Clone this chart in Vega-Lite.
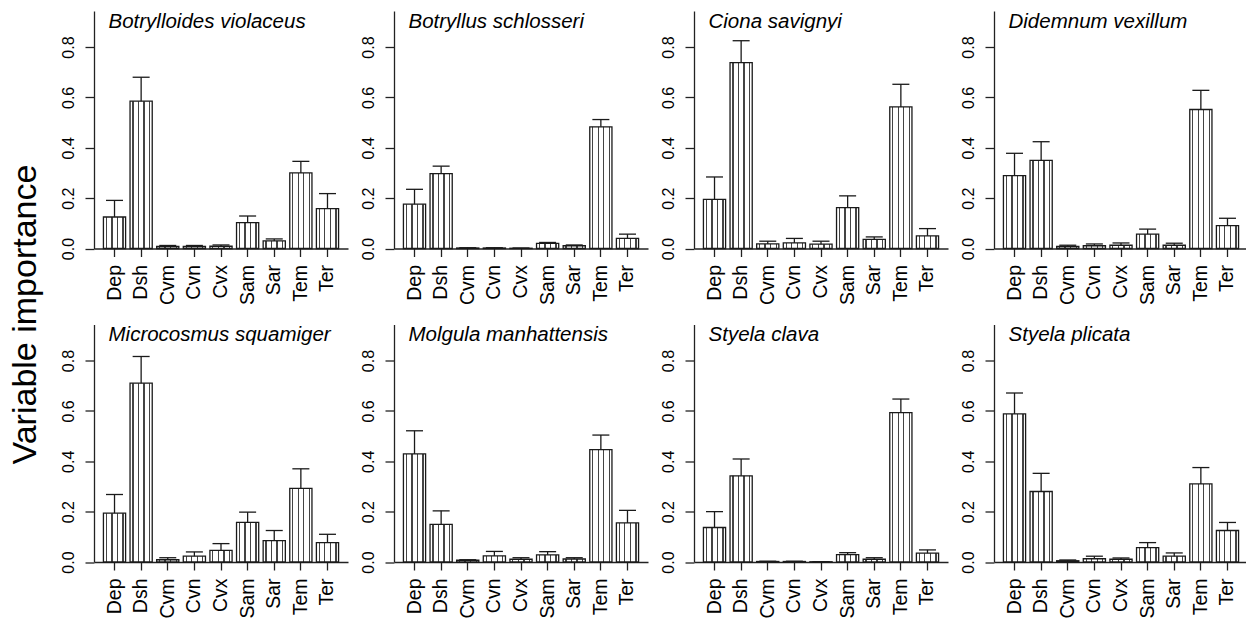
{
  "$schema": "https://vega.github.io/schema/vega-lite/v6.json",
  "padding": {"left": 8, "top": 10, "right": 0, "bottom": 0},
  "background": "white",
  "bounds": "flush",
  "columns": 4,
  "spacing": {"column": 46, "row": 75.5},
  "config": {
    "view": {"stroke": null},
    "header": {"title": null, "labels": false, "labelExpr": "''", "labelFontSize": 0.01, "labelPadding": 0},
    "axisY": {"title": null, "labelAngle": 270, "labelAlign": "center", "labelBaseline": "alphabetic", "labelFontSize": 16, "labelFont": "Liberation Sans", "labelColor": "#000", "labelPadding": 11.5, "tickSize": 9, "tickWidth": 1.3, "tickColor": "#222", "domainColor": "#222", "domainWidth": 1.3, "grid": false},
    "axisX": {"title": null, "labelAngle": 270, "labelAlign": "right", "labelBaseline": "middle", "labelFontSize": 19.5, "labelFont": "Liberation Sans", "labelColor": "#000", "labelPadding": 8, "tickSize": 8, "tickWidth": 1.3, "tickColor": "#222", "domainColor": "#222", "domainWidth": 1.3, "grid": false}
  },
  "title": {"text": "Variable importance", "orient": "left", "anchor": "middle", "fontSize": 34, "font": "Liberation Sans", "fontWeight": "normal", "color": "#000", "offset": 18},
  "data": {"values": [
    {"sp": "Botrylloides violaceus", "var": "Dep", "value": 0.125, "upper": 0.191},
    {"sp": "Botrylloides violaceus", "var": "Dsh", "value": 0.585, "upper": 0.680},
    {"sp": "Botrylloides violaceus", "var": "Cvm", "value": 0.008, "upper": 0.012},
    {"sp": "Botrylloides violaceus", "var": "Cvn", "value": 0.008, "upper": 0.012},
    {"sp": "Botrylloides violaceus", "var": "Cvx", "value": 0.009, "upper": 0.014},
    {"sp": "Botrylloides violaceus", "var": "Sam", "value": 0.103, "upper": 0.129},
    {"sp": "Botrylloides violaceus", "var": "Sar", "value": 0.030, "upper": 0.038},
    {"sp": "Botrylloides violaceus", "var": "Tem", "value": 0.300, "upper": 0.346},
    {"sp": "Botrylloides violaceus", "var": "Ter", "value": 0.158, "upper": 0.218},
    {"sp": "Botryllus schlosseri", "var": "Dep", "value": 0.176, "upper": 0.235},
    {"sp": "Botryllus schlosseri", "var": "Dsh", "value": 0.297, "upper": 0.327},
    {"sp": "Botryllus schlosseri", "var": "Cvm", "value": 0.002, "upper": 0.003},
    {"sp": "Botryllus schlosseri", "var": "Cvn", "value": 0.002, "upper": 0.003},
    {"sp": "Botryllus schlosseri", "var": "Cvx", "value": 0.001, "upper": 0.002},
    {"sp": "Botryllus schlosseri", "var": "Sam", "value": 0.020, "upper": 0.024},
    {"sp": "Botryllus schlosseri", "var": "Sar", "value": 0.011, "upper": 0.014},
    {"sp": "Botryllus schlosseri", "var": "Tem", "value": 0.483, "upper": 0.512},
    {"sp": "Botryllus schlosseri", "var": "Ter", "value": 0.040, "upper": 0.057},
    {"sp": "Ciona savignyi", "var": "Dep", "value": 0.195, "upper": 0.284},
    {"sp": "Ciona savignyi", "var": "Dsh", "value": 0.738, "upper": 0.825},
    {"sp": "Ciona savignyi", "var": "Cvm", "value": 0.018, "upper": 0.029},
    {"sp": "Ciona savignyi", "var": "Cvn", "value": 0.022, "upper": 0.040},
    {"sp": "Ciona savignyi", "var": "Cvx", "value": 0.017, "upper": 0.029},
    {"sp": "Ciona savignyi", "var": "Sam", "value": 0.162, "upper": 0.209},
    {"sp": "Ciona savignyi", "var": "Sar", "value": 0.036, "upper": 0.046},
    {"sp": "Ciona savignyi", "var": "Tem", "value": 0.562, "upper": 0.652},
    {"sp": "Ciona savignyi", "var": "Ter", "value": 0.050, "upper": 0.079},
    {"sp": "Didemnum vexillum", "var": "Dep", "value": 0.289, "upper": 0.378},
    {"sp": "Didemnum vexillum", "var": "Dsh", "value": 0.350, "upper": 0.424},
    {"sp": "Didemnum vexillum", "var": "Cvm", "value": 0.008, "upper": 0.013},
    {"sp": "Didemnum vexillum", "var": "Cvn", "value": 0.011, "upper": 0.018},
    {"sp": "Didemnum vexillum", "var": "Cvx", "value": 0.013, "upper": 0.022},
    {"sp": "Didemnum vexillum", "var": "Sam", "value": 0.057, "upper": 0.077},
    {"sp": "Didemnum vexillum", "var": "Sar", "value": 0.013, "upper": 0.021},
    {"sp": "Didemnum vexillum", "var": "Tem", "value": 0.552, "upper": 0.628},
    {"sp": "Didemnum vexillum", "var": "Ter", "value": 0.091, "upper": 0.120},
    {"sp": "Microcosmus squamiger", "var": "Dep", "value": 0.194, "upper": 0.268},
    {"sp": "Microcosmus squamiger", "var": "Dsh", "value": 0.710, "upper": 0.816},
    {"sp": "Microcosmus squamiger", "var": "Cvm", "value": 0.009, "upper": 0.017},
    {"sp": "Microcosmus squamiger", "var": "Cvn", "value": 0.023, "upper": 0.040},
    {"sp": "Microcosmus squamiger", "var": "Cvx", "value": 0.046, "upper": 0.073},
    {"sp": "Microcosmus squamiger", "var": "Sam", "value": 0.157, "upper": 0.198},
    {"sp": "Microcosmus squamiger", "var": "Sar", "value": 0.085, "upper": 0.125},
    {"sp": "Microcosmus squamiger", "var": "Tem", "value": 0.292, "upper": 0.370},
    {"sp": "Microcosmus squamiger", "var": "Ter", "value": 0.077, "upper": 0.110},
    {"sp": "Molgula manhattensis", "var": "Dep", "value": 0.429, "upper": 0.521},
    {"sp": "Molgula manhattensis", "var": "Dsh", "value": 0.149, "upper": 0.203},
    {"sp": "Molgula manhattensis", "var": "Cvm", "value": 0.007, "upper": 0.009},
    {"sp": "Molgula manhattensis", "var": "Cvn", "value": 0.024, "upper": 0.042},
    {"sp": "Molgula manhattensis", "var": "Cvx", "value": 0.011, "upper": 0.017},
    {"sp": "Molgula manhattensis", "var": "Sam", "value": 0.028, "upper": 0.041},
    {"sp": "Molgula manhattensis", "var": "Sar", "value": 0.012, "upper": 0.017},
    {"sp": "Molgula manhattensis", "var": "Tem", "value": 0.446, "upper": 0.504},
    {"sp": "Molgula manhattensis", "var": "Ter", "value": 0.155, "upper": 0.205},
    {"sp": "Styela clava", "var": "Dep", "value": 0.137, "upper": 0.200},
    {"sp": "Styela clava", "var": "Dsh", "value": 0.342, "upper": 0.409},
    {"sp": "Styela clava", "var": "Cvm", "value": 0.002, "upper": 0.003},
    {"sp": "Styela clava", "var": "Cvn", "value": 0.002, "upper": 0.003},
    {"sp": "Styela clava", "var": "Cvx", "value": 0.001, "upper": 0.001},
    {"sp": "Styela clava", "var": "Sam", "value": 0.029, "upper": 0.037},
    {"sp": "Styela clava", "var": "Sar", "value": 0.011, "upper": 0.017},
    {"sp": "Styela clava", "var": "Tem", "value": 0.593, "upper": 0.647},
    {"sp": "Styela clava", "var": "Ter", "value": 0.035, "upper": 0.048},
    {"sp": "Styela plicata", "var": "Dep", "value": 0.588, "upper": 0.671},
    {"sp": "Styela plicata", "var": "Dsh", "value": 0.280, "upper": 0.352},
    {"sp": "Styela plicata", "var": "Cvm", "value": 0.005, "upper": 0.008},
    {"sp": "Styela plicata", "var": "Cvn", "value": 0.013, "upper": 0.023},
    {"sp": "Styela plicata", "var": "Cvx", "value": 0.011, "upper": 0.016},
    {"sp": "Styela plicata", "var": "Sam", "value": 0.057, "upper": 0.077},
    {"sp": "Styela plicata", "var": "Sar", "value": 0.023, "upper": 0.036},
    {"sp": "Styela plicata", "var": "Tem", "value": 0.310, "upper": 0.375},
    {"sp": "Styela plicata", "var": "Ter", "value": 0.125, "upper": 0.157}
  ]},
  "facet": {"field": "sp", "type": "nominal", "header": {"title": null, "labels": false, "labelExpr": "''", "labelFontSize": 0.01, "labelPadding": 0}},
  "resolve": {"axis": {"x": "independent", "y": "independent"}},
  "spec": {
    "width": 254,
    "height": 237.5,
    "encoding": {
      "x": {
        "field": "var", "type": "nominal",
        "sort": ["Dep", "Dsh", "Cvm", "Cvn", "Cvx", "Sam", "Sar", "Tem", "Ter"],
        "scale": {"paddingInner": 0.1667, "paddingOuter": 0.354},
        "axis": {"title": null}
      }
    },
    "layer": [
      {
        "mark": {"type": "bar", "stroke": "#1a1a1a", "strokeWidth": 1.3,
          "fill": {"gradient": "linear", "x1": 0, "y1": 0, "x2": 1, "y2": 0, "stops": [
            {"offset": 0, "color": "#ffffff"}, {"offset": 0.1, "color": "#ffffff"},
            {"offset": 0.1, "color": "#444444"}, {"offset": 0.16, "color": "#444444"},
            {"offset": 0.16, "color": "#ffffff"}, {"offset": 0.35, "color": "#ffffff"},
            {"offset": 0.35, "color": "#444444"}, {"offset": 0.41, "color": "#444444"},
            {"offset": 0.41, "color": "#ffffff"}, {"offset": 0.6, "color": "#ffffff"},
            {"offset": 0.6, "color": "#444444"}, {"offset": 0.66, "color": "#444444"},
            {"offset": 0.66, "color": "#ffffff"}, {"offset": 0.85, "color": "#ffffff"},
            {"offset": 0.85, "color": "#444444"}, {"offset": 0.91, "color": "#444444"},
            {"offset": 0.91, "color": "#ffffff"}, {"offset": 1, "color": "#ffffff"}
          ]}
        },
        "encoding": {
          "y": {"field": "value", "type": "quantitative",
            "scale": {"domain": [0, 0.943], "nice": false, "zero": true},
            "axis": {"title": null, "values": [0, 0.2, 0.4, 0.6, 0.8], "format": ".1f"}
          }
        }
      },
      {
        "mark": {"type": "rule", "color": "#1a1a1a", "strokeWidth": 1.3},
        "encoding": {"y": {"field": "value", "type": "quantitative", "axis": {"title": null, "values": [0, 0.2, 0.4, 0.6, 0.8], "format": ".1f"}}, "y2": {"field": "upper"}}
      },
      {
        "mark": {"type": "tick", "orient": "horizontal", "size": 17, "thickness": 1.3, "color": "#1a1a1a", "opacity": 1},
        "encoding": {"y": {"field": "upper", "type": "quantitative", "axis": {"title": null, "values": [0, 0.2, 0.4, 0.6, 0.8], "format": ".1f"}}}
      },
      {
        "transform": [{"filter": "datum.var === 'Dep'"}],
        "mark": {"type": "text", "align": "left", "baseline": "alphabetic", "fontStyle": "italic", "fontSize": 20.5, "font": "Liberation Sans", "color": "#000", "dx": -6},
        "encoding": {"x": {"datum": "Dep"}, "y": {"datum": 0.876}, "text": {"field": "sp"}}
      }
    ]
  }
}
